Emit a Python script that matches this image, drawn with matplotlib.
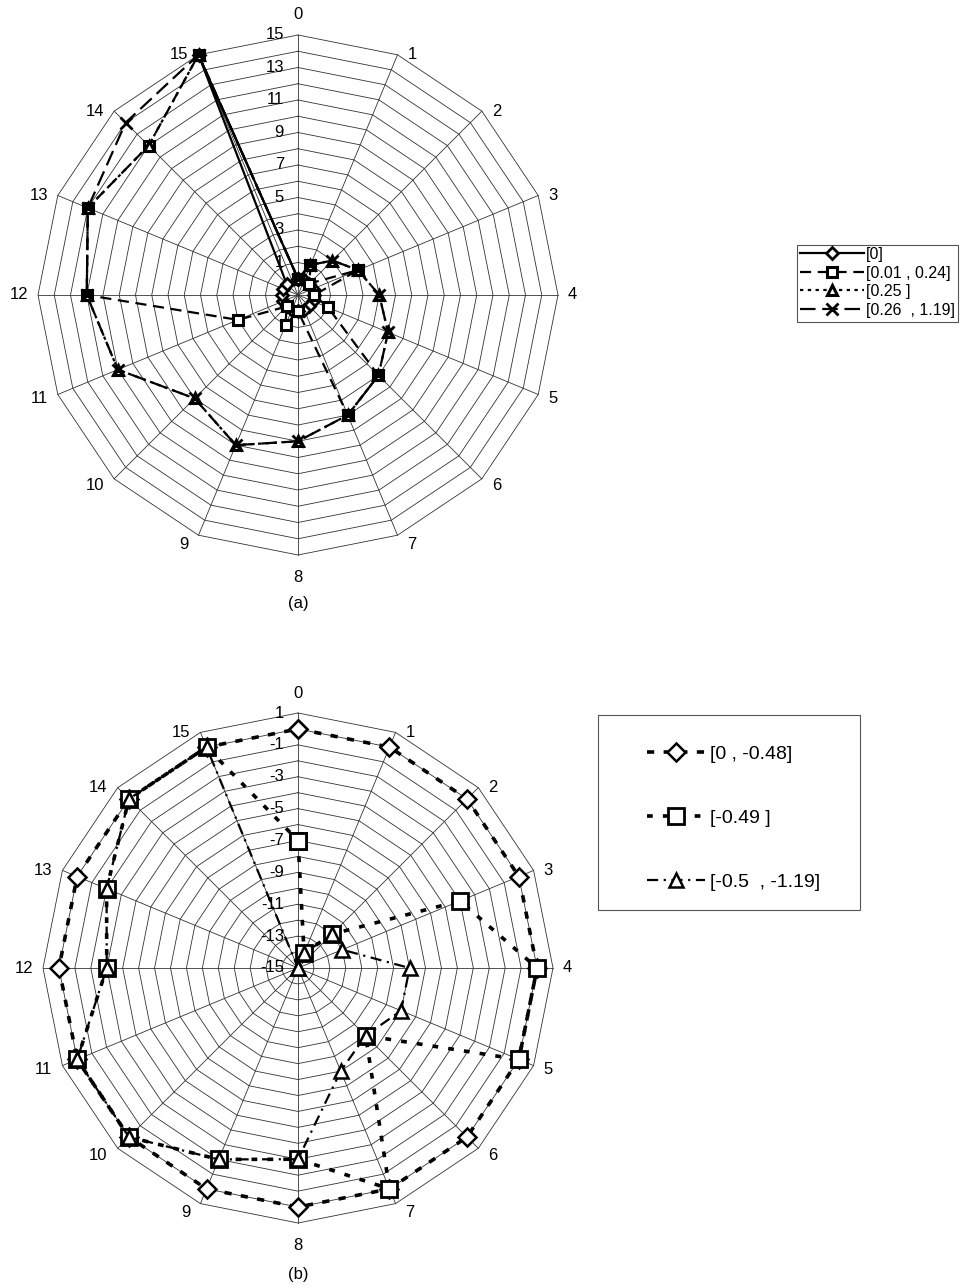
import numpy as np
import matplotlib

matplotlib.use("Agg")
import matplotlib.pyplot as plt
from matplotlib.patches import Rectangle

plt.rcParams["font.family"] = ["Liberation Sans", "DejaVu Sans"]

W, H = 961, 1288  # figure size in px (dpi 100)

CATEGORIES = [str(i) for i in range(16)]

# ---- chart (a): radial scale -1..15
A_RANGE = (-1, 15)
A_TICKS = [1, 3, 5, 7, 9, 11, 13, 15]
A_LABELS = ["[0]", "[0.01 , 0.24]", "[0.25 ]", "[0.26  , 1.19]"]
A_ZERO = [0, 0, 0, 0, 0, 0, 0, 0, 0, 0, 0, 0, 0, 0, 0, 15]
A_LOW = [0, 1, 0, 3, 0, 1, 6, 7, 0, 1, 0, 3, 12, 13, 12, 15]
A_MID = [0, 1, 2, 3, 4, 5, 6, 7, 8, 9, 8, 11, 12, 13, 12, 15]
A_HIGH = [0, 1, 2, 3, 4, 5, 6, 7, 8, 9, 8, 11, 12, 13, 14, 15]

# ---- chart (b): radial scale -15..1
B_RANGE = (-15, 1)
B_TICKS = [1, -1, -3, -5, -7, -9, -11, -13, -15]
B_LABELS = ["[0 , -0.48]", "[-0.49 ]", "[-0.5  , -1.19]"]
B_HIGH = [0, 0, 0, 0, 0, 0, 0, 0, 0, 0, 0, 0, 0, 0, 0, 0]
B_MID = [-7, -14, -12, -4, 0, 0, -9, 0, -3, -2, 0, 0, -3, -2, 0, 0]
B_LOW = [-15, -14, -12, -12, -8, -8, -9, -8, -3, -2, 0, 0, -3, -2, 0, 0]


def radar_axes(fig, cx, cy, radius_px, vrange):
    """Axes whose data units are radar-radius units, centred at (cx, cy) px."""
    half = 300
    ax = fig.add_axes([(cx - half) / W, 1 - (cy + half) / H,
                       2 * half / W, 2 * half / H])
    ppu = radius_px / (vrange[1] - vrange[0])
    lim = half / ppu
    ax.set_xlim(-lim, lim)
    ax.set_ylim(-lim, lim)
    ax.axis("off")
    return ax, ppu


def to_xy(values, vmin):
    theta = 2 * np.pi * np.arange(len(values)) / len(values)
    r = np.asarray(values, dtype=float) - vmin
    x, y = r * np.sin(theta), r * np.cos(theta)
    return np.append(x, x[0]), np.append(y, y[0])


def draw_grid(ax, ppu, vrange, ticks, fs=12):
    vmin, vmax = vrange
    n = len(CATEGORIES)
    for v in range(vmin + 1, vmax + 1):
        x, y = to_xy([v] * n, vmin)
        ax.plot(x, y, color="#333333", lw=0.6, zorder=1)
    x, y = to_xy([vmax] * n, vmin)
    for k in range(n):
        ax.plot([0, x[k]], [0, y[k]], color="#333333", lw=0.6, zorder=1)
    R = vmax - vmin
    px = 1.0 / ppu
    for k, lab in enumerate(CATEGORIES):
        th = 2 * np.pi * k / n
        s, c = np.sin(th), np.cos(th)
        if abs(s) < 0.01:
            ty = R + 20 * px if c > 0 else -R - 23 * px
            ax.text(0, ty, lab, ha="center", va="center", fontsize=fs)
        else:
            tx = R * s + np.sign(s) * 10 * px
            ty = R * c - 10 * px * max(0.0, -c)
            ax.text(tx, ty, lab, ha="left" if s > 0 else "right",
                    va="center", fontsize=fs)
    for t in ticks:
        ax.text(-14 * px, t - vmin, str(t), ha="right", va="center",
                fontsize=fs, zorder=2)


fig = plt.figure(figsize=(W / 100, H / 100), dpi=100)

# ---------------- (a)
ax_a, ppu_a = radar_axes(fig, 298, 295, 260, A_RANGE)
draw_grid(ax_a, ppu_a, A_RANGE, A_TICKS)
a_styles = [
    dict(ls="-", marker="D", ms=6, lw=1.6, mew=2.0),
    dict(ls=(0, (5, 3)), marker="s", ms=7.5, lw=1.6, mew=2.2),
    dict(ls=(0, (1.5, 2)), marker="^", ms=7.5, lw=1.6, mew=2.2),
    dict(ls=(0, (7, 3)), marker="x", ms=8.5, lw=1.6, mew=2.0),
]
a_lines = []
for vals, st in zip([A_ZERO, A_LOW, A_MID, A_HIGH], a_styles):
    x, y = to_xy(vals, A_RANGE[0])
    (ln,) = ax_a.plot(x, y, color="black", mfc="white", mec="black",
                      zorder=3, **st)
    a_lines.append(ln)
fig.text(298 / W, 1 - 603 / H, "(a)", ha="center", va="center", fontsize=12)

fig.patches.append(Rectangle((797 / W, 1 - 322 / H), 161 / W, 77 / H,
                             transform=fig.transFigure, fill=False,
                             edgecolor="#555555", lw=0.8))
fig.legend(a_lines, A_LABELS, loc="upper left",
           bbox_to_anchor=(800 / W, 1 - 247 / H), frameon=False,
           fontsize=11.5, handlelength=4.0, handletextpad=0.15,
           labelspacing=0.22, borderpad=0, borderaxespad=0)

# ---------------- (b)
ax_b, ppu_b = radar_axes(fig, 298, 968, 255, B_RANGE)
draw_grid(ax_b, ppu_b, B_RANGE, B_TICKS)
b_styles = [
    dict(ls=(0, (2.0, 2.6)), marker="D", ms=9, lw=2.6, mew=1.8),
    dict(ls=(0, (1.6, 2.8)), marker="s", ms=11, lw=2.6, mew=2.0),
    dict(ls=(0, (5, 2.5, 1, 2.5)), marker="^", ms=10, lw=1.6, mew=1.8),
]
b_lines = []
for vals, st in zip([B_HIGH, B_MID, B_LOW], b_styles):
    x, y = to_xy(vals, B_RANGE[0])
    (ln,) = ax_b.plot(x, y, color="black", mfc="white", mec="black",
                      zorder=3, **st)
    b_lines.append(ln)
fig.text(298 / W, 1 - 1274 / H, "(b)", ha="center", va="center", fontsize=12)

fig.patches.append(Rectangle((598 / W, 1 - 910 / H), 262 / W, 195 / H,
                             transform=fig.transFigure, fill=False,
                             edgecolor="#555555", lw=0.8))
fig.legend(b_lines, B_LABELS, loc="upper left",
           bbox_to_anchor=(647 / W, 1 - 745 / H), frameon=False,
           fontsize=14, handlelength=3.0, handletextpad=0.25,
           labelspacing=2.4, borderpad=0, borderaxespad=0)

fig.savefig("out.png", dpi=100, facecolor="white")
